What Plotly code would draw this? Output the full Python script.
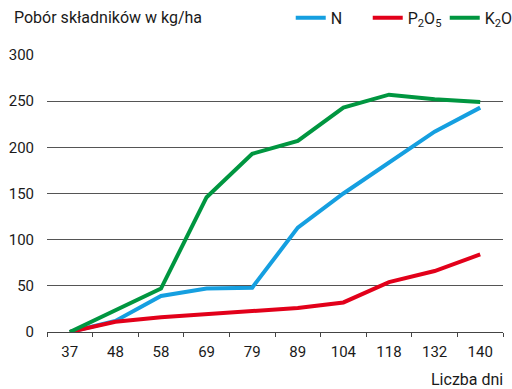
import plotly.graph_objects as go

days = ["37", "48", "58", "69", "79", "89", "104", "118", "132", "140"]
n_vals = [0, 12, 39, 47, 48, 113, 150, 184, 217, 243]
p_vals = [0, 11, 16, 19, 22, 26, 32, 54, 66, 84]
k_vals = [0, 23, 47, 146, 193, 207, 243, 257, 252, 249]
y_ticks = [0, 50, 100, 150, 200, 250, 300]

FONT = "Roboto"

fig = go.Figure()
fig.add_trace(go.Scatter(x=days, y=n_vals, mode="lines", name="N",
                         line=dict(color="#159fe0", width=4)))
fig.add_trace(go.Scatter(x=days, y=p_vals, mode="lines", name="P<sub>2</sub>O<sub>5</sub>",
                         line=dict(color="#e2001a", width=4)))
fig.add_trace(go.Scatter(x=days, y=k_vals, mode="lines", name="K<sub>2</sub>O",
                         line=dict(color="#009640", width=4)))

fig.update_layout(
    width=512, height=389,
    margin=dict(l=47, r=9, t=55, b=57, autoexpand=False),
    paper_bgcolor="white", plot_bgcolor="white",
    font=dict(family=FONT, size=15, color="#1a1a1a"),
    showlegend=True,
    legend=dict(orientation="h", x=0.5345, xanchor="left", y=1.134,
                yanchor="middle", font=dict(size=16), itemwidth=30,
                entrywidth=32, entrywidthmode="pixels",
                traceorder="normal", bgcolor="rgba(0,0,0,0)"),
    xaxis=dict(type="category", showgrid=False, showline=True, linecolor="#444",
               linewidth=1, ticks="outside", tickson="boundaries", ticklen=4,
               tickcolor="#444", tickfont=dict(size=15), zeroline=False,
               range=[-0.5, 9.5], ticklabelstandoff=6, automargin=False),
    yaxis=dict(range=[0, 300], tickvals=y_ticks, showgrid=True, gridcolor="#555",
               gridwidth=1, zeroline=False, showline=False, ticks="",
               tickfont=dict(size=15), ticklabelstandoff=12, automargin=False),
    annotations=[
        dict(text="Pobór składników w kg/ha", xref="paper", yref="paper", x=-0.077, y=1.134,
             xanchor="left", yanchor="middle", showarrow=False, font=dict(size=16)),
        dict(text="Liczba dni", xref="paper", yref="paper", x=1.004, y=-0.173,
             xanchor="right", yanchor="middle", showarrow=False, font=dict(size=16)),
    ],
)

fig.write_html("out.html", config={"displayModeBar": False},
               post_script="document.body.style.margin='0';")
